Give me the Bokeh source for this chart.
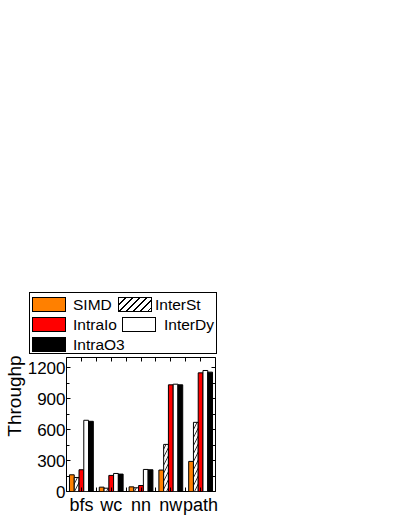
from bokeh.plotting import figure
from bokeh.models import (ColumnDataSource, Range1d, LinearAxis, Div,
                          FixedTicker, CustomJSTickFormatter)
from bokeh.layouts import column
from bokeh.transform import dodge
from bokeh.embed import file_html
from bokeh.resources import INLINE

categories = ["bfs", "wc", "nn", "nw", "path"]
series = ["SIMD", "InterSt", "IntraIo", "InterDy", "IntraO3"]
simd = [162, 42, 45, 208, 292]
interst = [136, 32, 36, 457, 671]
intraio = [211, 156, 58, 1035, 1151]
interdy = [691, 175, 214, 1041, 1174]
intrao3 = [681, 169, 211, 1035, 1158]
y_ticks = [0, 300, 600, 900, 1200]
y_label = "Throughput (MB/s)"

FONT = "Liberation Sans"
W = 222

idx = list(range(len(categories)))
src = ColumnDataSource(dict(x=idx, cat=categories, SIMD=simd, InterSt=interst,
                            IntraIo=intraio, InterDy=interdy, IntraO3=intrao3))

p = figure(x_range=Range1d(-0.5, len(categories) - 0.5), y_range=Range1d(0, 1300),
           width=W, height=165, output_backend="svg", toolbar_location=None,
           x_axis_location=None, y_axis_location=None,
           min_border_left=0, min_border_right=7, min_border_bottom=28, min_border_top=3)
p.grid.visible = False
p.outline_line_color = "black"
p.outline_line_width = 1
p.background_fill_color = "white"
p.border_fill_color = "white"

bw = 0.16
styles = [
    dict(fill_color="#FF8000"),
    dict(fill_color="white", hatch_pattern="/", hatch_color="black", hatch_scale=8, hatch_weight=0.8),
    dict(fill_color="#FF0000"),
    dict(fill_color="white"),
    dict(fill_color="black"),
]
for i, (name, st) in enumerate(zip(series, styles)):
    off = (i - 2) * bw
    p.vbar(x=dodge("x", off), top=name, width=bw, source=src,
           line_color="black", line_width=1, **st)

centers = idx
bounds = [i - 0.5 for i in idx] + [idx[-1] + 0.5]
blank = CustomJSTickFormatter(code="return ''")

def style_axis(ax, labels=True):
    ax.axis_line_color = None
    ax.major_tick_in = 4
    ax.major_tick_out = 0
    ax.minor_tick_in = 3
    ax.minor_tick_out = 0
    ax.major_tick_line_color = "black"
    ax.minor_tick_line_color = "black"
    ax.major_label_text_font = FONT
    ax.major_label_text_color = "black"
    if not labels:
        ax.formatter = blank
        ax.major_label_text_font_size = "1px"
        ax.major_label_standoff = 0

xb = LinearAxis(ticker=FixedTicker(ticks=centers, minor_ticks=bounds),
                major_label_overrides={c: lab for c, lab in zip(centers, categories)})
style_axis(xb)
xb.minor_tick_in = 4
xb.major_label_text_font_size = "18px"
xb.major_label_standoff = 3
p.add_layout(xb, "below")

xt = LinearAxis(ticker=FixedTicker(ticks=centers, minor_ticks=bounds))
style_axis(xt, labels=False)
xt.minor_tick_in = 4
p.add_layout(xt, "above")

minor_y = [v + 150 for v in y_ticks]
yl = LinearAxis(ticker=FixedTicker(ticks=y_ticks, minor_ticks=minor_y), axis_label=y_label)
style_axis(yl)
yl.major_label_text_font_size = "17px"
yl.major_label_standoff = 1
yl.axis_label_text_font = FONT
yl.axis_label_text_font_size = "19px"
yl.axis_label_text_font_style = "normal"
yl.axis_label_text_color = "black"
yl.axis_label_standoff = 0
if "axis_label_align" in yl.properties():
    yl.axis_label_align = "end"
p.add_layout(yl, "left")

yr = LinearAxis(ticker=FixedTicker(ticks=y_ticks, minor_ticks=minor_y))
style_axis(yr, labels=False)
p.add_layout(yr, "right")

# legend as HTML (real text), laid out in 2 columns like the reference
swatch_css = [
    "background:#FF8000;",
    "background:repeating-linear-gradient(135deg,#fff 0px,#fff 4px,#000 4px,#000 5px);",
    "background:#FF0000;",
    "background:#fff;",
    "background:#000;",
]
# (swatch left, text left, row) for each legend entry, in px inside the box
slots = [(2, 43, 0), (88, 125, 0), (2, 43, 1), (92, 134, 1), (2, 43, 2)]
items_html = ""
for name, css, (sl, tl, row) in zip(series, swatch_css, slots):
    top = 4 + row * 20
    items_html += (
        f'<div style="position:absolute;left:{sl}px;top:{top}px;width:34px;height:15px;'
        f'box-sizing:border-box;border:1px solid #000;{css}"></div>'
        f'<div style="position:absolute;left:{tl}px;top:{top - 2}px;line-height:19px;'
        f'white-space:nowrap;">{name}</div>'
    )
DIV_H = 354
html = (
    f'<div style="position:relative;width:{W}px;height:{DIV_H}px;font-family:\'{FONT}\';'
    f'font-size:15.5px;color:#000;">'
    f'<div style="position:absolute;left:29px;top:{DIV_H - 62}px;width:188px;height:62px;'
    f'box-sizing:border-box;border:1px solid #000;background:#fff;">{items_html}</div></div>'
)
legend_div = Div(text=html, width=W, height=DIV_H, margin=0)

layout = column(legend_div, p)
open("out.html", "w").write(file_html(layout, INLINE))
